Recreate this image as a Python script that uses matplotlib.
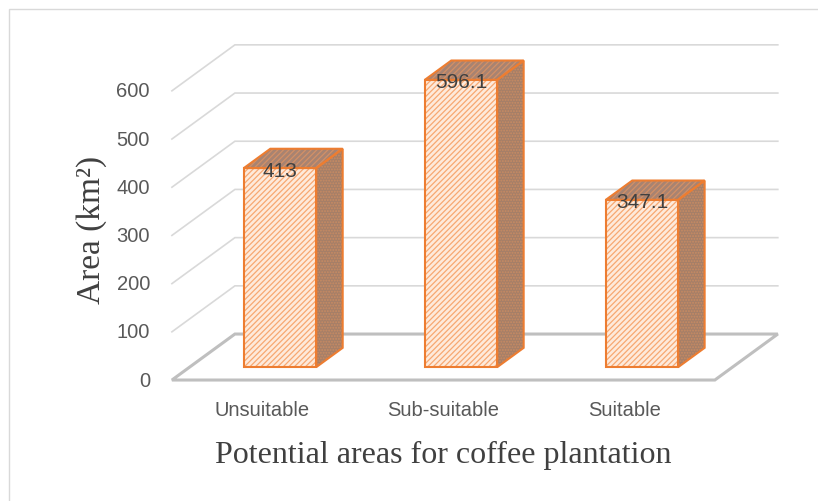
import matplotlib
matplotlib.use('Agg')
import matplotlib.pyplot as plt
from matplotlib.patches import Polygon, Rectangle
from matplotlib.transforms import offset_copy

categories = ['Unsuitable', 'Sub-suitable', 'Suitable']
areas = [413, 596.1, 347.1]
area_labels = ['413', '596.1', '347.1']
y_ticks = [0, 100, 200, 300, 400, 500, 600]

W, H = 818, 502
plt.rcParams['hatch.linewidth'] = 0.9

fig = plt.figure(figsize=(W / 100, H / 100), dpi=100)
ax = fig.add_axes([0, 0, 1, 1])
ax.set_xlim(-1.45, 3.07)
ax.set_ylim(-251, 790.5)
ax.axis('off')

# depth of the 3-D box (data units) and where the bars sit inside it
dx, dy = 0.348, 95.4
f0, f1 = 0.28, 0.70
hw = 0.2
x_lo, x_hi = -0.5, len(categories) - 0.5

# back wall gridlines with their diagonal on the side wall
for v in y_ticks[1:]:
    ax.plot([x_lo, x_lo + dx, x_hi + dx], [v, v + dy, v + dy],
            color='#D9D9D9', lw=1.2, zorder=1, solid_joinstyle='miter')

# floor
ax.add_patch(Polygon([(x_lo, 0), (x_hi, 0), (x_hi + dx, dy), (x_lo + dx, dy)],
                     closed=True, facecolor='white', edgecolor='#BFBFBF',
                     lw=2.2, zorder=2))

orange = '#ED7D31'
ddx, ddy = (f1 - f0) * dx, (f1 - f0) * dy
for i, v in enumerate(areas):
    xl, xr = i - hw + f0 * dx, i + hw + f0 * dx
    yb = f0 * dy
    yt = yb + v
    side = [(xr, yb), (xr + ddx, yb + ddy), (xr + ddx, yt + ddy), (xr, yt)]
    top = [(xl, yt), (xr, yt), (xr + ddx, yt + ddy), (xl + ddx, yt + ddy)]
    front = [(xl, yb), (xr, yb), (xr, yt), (xl, yt)]

    # fills with pattern (hatch drawn in edgecolor, edge itself hidden)
    ax.add_patch(Polygon(side, closed=True, facecolor='#A67F68',
                         edgecolor='#C98B62', hatch='......', lw=0, zorder=3))
    ax.add_patch(Polygon(top, closed=True, facecolor='#A88371',
                         edgecolor='#D39066', hatch='//////', lw=0, zorder=3))
    ax.add_patch(Polygon(front, closed=True, facecolor='#FEEADB',
                         edgecolor='#F7A872', hatch='//////', lw=0, zorder=3))
    # outlines
    for pts in (side, top, front):
        ax.add_patch(Polygon(pts, closed=True, fill=False, edgecolor=orange,
                             lw=1.5, zorder=4, joinstyle='miter'))

    ax.text(i + f0 * dx, yt, area_labels[i],
            transform=offset_copy(ax.transData, fig, x=0, y=-2, units='dots'),
            ha='center', va='center', fontsize=15, color='#404040',
            family='Liberation Sans', zorder=5)

# value axis labels
for v in y_ticks:
    ax.text(x_lo, v, str(v),
            transform=offset_copy(ax.transData, fig, x=-22, y=0, units='dots'),
            ha='right', va='center', fontsize=14.5, color='#595959',
            family='Liberation Sans')

# category labels
for i, c in enumerate(categories):
    ax.text(i, 0, c,
            transform=offset_copy(ax.transData, fig, x=0, y=-29, units='dots'),
            ha='center', va='center', fontsize=14.5, color='#595959',
            family='Liberation Sans')

fig.text(443 / W, 1 - 455 / H, 'Potential areas for coffee plantation',
         ha='center', va='center', fontsize=23, color='#404040',
         family='Liberation Serif')
fig.text(92 / W, 1 - 230 / H, 'Area (km²)', rotation=90,
         ha='center', va='center', fontsize=24, color='#404040',
         family='Liberation Serif')

# chart area border
fig.add_artist(Rectangle((9 / W, -0.05), 1.1, (H - 10) / H + 0.05,
                         transform=fig.transFigure, fill=False,
                         edgecolor='#D9D9D9', lw=1))

fig.savefig('out.png', dpi=100)
